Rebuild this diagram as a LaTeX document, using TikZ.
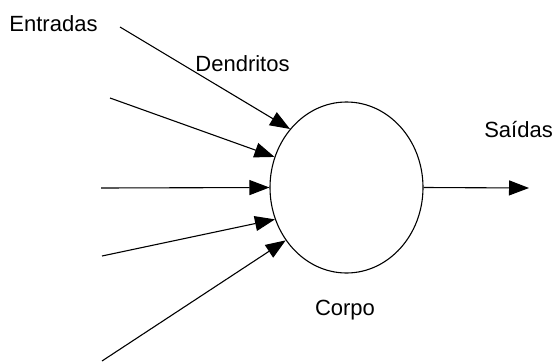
\documentclass[tikz,border=0pt]{standalone}
\usepackage{fontspec}
\setmainfont{Liberation Sans}
\usetikzlibrary{shapes.geometric,arrows.meta}
\begin{document}
\begin{tikzpicture}[x=1pt,y=-1pt,
  body/.style={draw,ellipse,line width=1.1pt,minimum width=153pt,minimum height=171pt,inner sep=0pt},
  conn/.style={line width=1.1pt,-{Triangle[length=20pt,width=15pt]}},
  lbl/.style={font=\fontsize{22}{25}\selectfont,anchor=base,inner sep=0pt}]
\useasboundingbox (0,0) rectangle (553,361);
\node[body] (corpo) at (346.5,187.5) {};
\coordinate (s1) at (120,27);
\coordinate (s2) at (110,98);
\coordinate (s3) at (101,188);
\coordinate (s4) at (102,256);
\coordinate (s5) at (102,361);
\coordinate (out) at (529,188);
\draw[conn] (s1) -- (corpo.134);
\draw[conn] (s2) -- (corpo.157);
\draw[conn] (s3) -- (corpo.180);
\draw[conn] (s4) -- (corpo.204);
\draw[conn] (s5) -- (corpo.221);
\draw[conn] (corpo.east) -- (out);
\node[lbl] (entradas) at (53.5,32) {Entradas};
\node[lbl] (dendritos) at (242.5,71) {Dendritos};
\node[lbl] (saidas) at (518.5,137) {Saídas};
\node[lbl] (corpolbl) at (345,315) {Corpo};
\end{tikzpicture}
\end{document}
